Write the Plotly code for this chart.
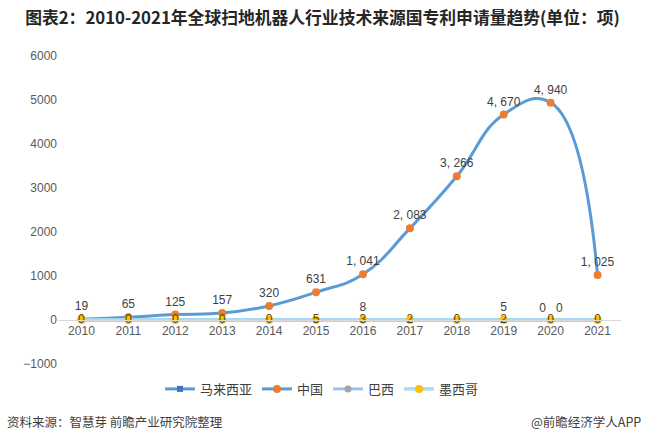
import plotly.graph_objects as go

years = ["2010", "2011", "2012", "2013", "2014", "2015", "2016", "2017", "2018", "2019", "2020", "2021"]
malaysia = [0, 0, 0, 0, 0, 0, 0, 0, 0, 0, 0, 0]
malaysia_text = ["", "", "", "", "", "", "", "", "", "", "0", ""]
china = [19, 65, 125, 157, 320, 631, 1041, 2083, 3266, 4670, 4940, 1025]
brazil = [0, 0, 0, 0, 0, 0, 8, 0, 0, 5, 0, 0]
brazil_text = ["", "", "", "", "", "", "8", "", "", "5", "0", ""]
mexico = [0, 0, 0, 0, 0, 5, 3, 2, 0, 2, 0, 0]

FONT = "Liberation Sans, Arial, Noto Sans CJK SC"
CJK = "Noto Sans CJK SC, Microsoft YaHei"

fig = go.Figure()

fig.add_trace(go.Scatter(
    x=years, y=malaysia, name="马来西亚", mode="lines+markers+text",
    line=dict(color="#5B9BD5", width=3),
    marker=dict(symbol="square", color="#4472C4", size=6),
    text=malaysia_text, textposition="top left",
    textfont=dict(color="#404040", size=12, family=FONT),
))
fig.add_trace(go.Scatter(
    x=years, y=china, name="中国", mode="lines+markers+text",
    line=dict(color="#5B9BD5", width=3, shape="spline", smoothing=1.3),
    marker=dict(color="#ED7D31", size=8),
    text=[f"{v:,}".replace(",", ", ") for v in china], textposition="top center",
    textfont=dict(color="#404040", size=12, family=FONT),
))
fig.add_trace(go.Scatter(
    x=years, y=brazil, name="巴西", mode="lines+markers+text",
    line=dict(color="#9DC3E6", width=3),
    marker=dict(color="#A5A5A5", size=7),
    text=brazil_text,
    textposition=["top center"] * 10 + ["top right", "top center"],
    textfont=dict(color="#404040", size=12, family=FONT),
))
fig.add_trace(go.Scatter(
    x=years, y=mexico, name="墨西哥", mode="lines+markers+text",
    line=dict(color="#A9DDF0", width=3.5),
    marker=dict(color="#FFC000", size=8),
    text=[str(v) for v in mexico], textposition="middle center",
    textfont=dict(color="#5A4A10", size=12, family=FONT),
))

fig.update_layout(
    width=645, height=442,
    margin=dict(l=58, r=24, t=56, b=78),
    paper_bgcolor="white", plot_bgcolor="white",
    font=dict(family=FONT, color="#595959", size=12),
    title=dict(
        text="<b>图表2：2010-2021年全球扫地机器人行业技术来源国专利申请量趋势(单位：项)</b>",
        x=0.5, xref="container", xanchor="center",
        y=1 - 18 / 442, yref="container", yanchor="middle",
        font=dict(family=CJK, size=16.8, color="#262626"),
    ),
    showlegend=True,
    legend=dict(
        orientation="h", x=(322 - 58) / 563, xanchor="center", y=-0.081, yanchor="middle",
        font=dict(family=CJK, size=13, color="#404040"),
        bgcolor="rgba(0,0,0,0)",
    ),
    xaxis=dict(
        type="category", range=[-0.5, 11.5],
        anchor="free", position=1 / 7,
        showline=True, linecolor="#D9D9D9", linewidth=1,
        showgrid=False, zeroline=False, ticks="",
        tickfont=dict(size=12, color="#595959", family=FONT),
    ),
    yaxis=dict(
        range=[-1000, 6000], dtick=1000, tickformat="d",
        showgrid=False, zeroline=False, showline=False, ticks="",
        tickfont=dict(size=12, color="#595959", family=FONT),
    ),
    annotations=[
        dict(text="资料来源：智慧芽 前瞻产业研究院整理", xref="paper", yref="paper",
             x=(5 - 58) / 563, y=(364 - 422) / 308, xanchor="left", yanchor="middle",
             showarrow=False, font=dict(family=CJK, size=12.5, color="#404040")),
        dict(text="@前瞻经济学人APP", xref="paper", yref="paper",
             x=(643 - 58) / 563, y=(364 - 422) / 308, xanchor="right", yanchor="middle",
             showarrow=False, font=dict(family=CJK, size=12.5, color="#404040")),
    ],
)

fig.write_html("out.html", config={"displayModeBar": False},
               post_script="document.body.style.margin='0';")
